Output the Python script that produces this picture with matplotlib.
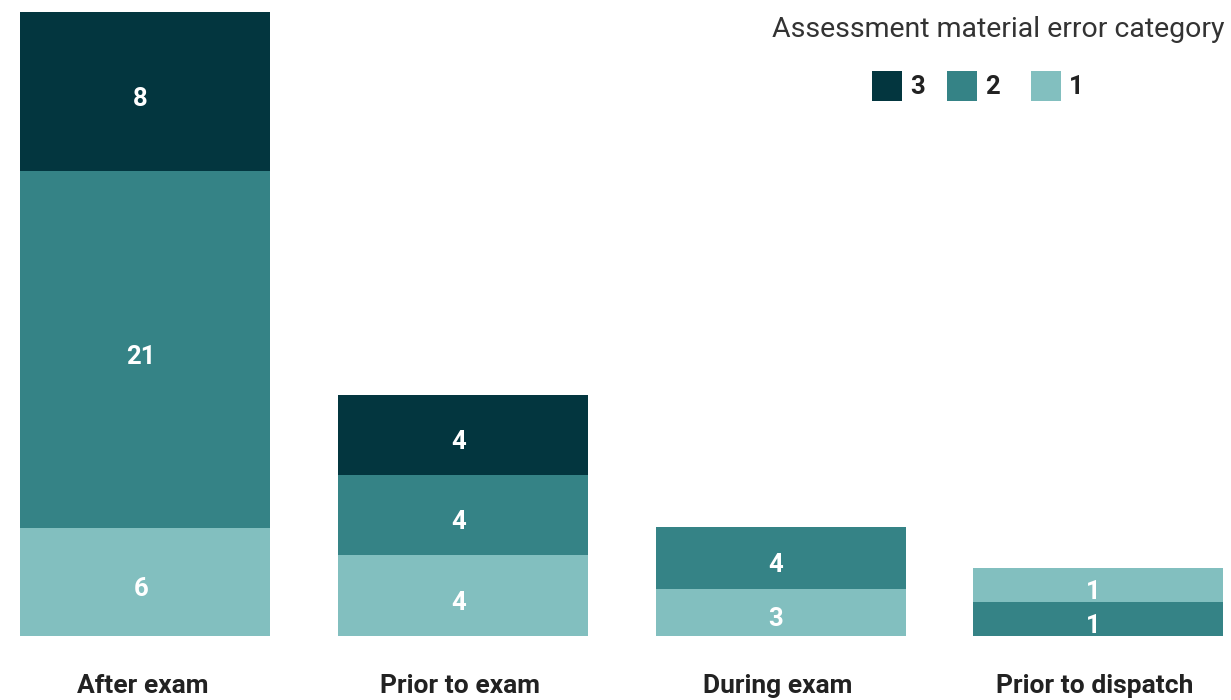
import matplotlib.pyplot as plt
from matplotlib.patches import Rectangle

plt.rcParams['font.family'] = ['Roboto', 'DejaVu Sans']

# stages on the x axis
stages = ["After exam", "Prior to exam", "During exam", "Prior to dispatch"]

# segments of each bar, bottom to top: error category, count shown, drawn height
seg_cats = [[1, 2, 3], [1, 2, 3], [1, 2], [2, 1]]
seg_counts = [[6, 21, 8], [4, 4, 4], [3, 4], [1, 1]]
seg_heights = [[108, 357, 159], [81, 80, 80], [47, 62], [34, 34]]

legend_cats = [3, 2, 1]
colors = {3: "#03363f", 2: "#358386", 1: "#82bfbf"}

fig = plt.figure(figsize=(12.31, 7), dpi=100)
ax = fig.add_axes([0, 0, 1, 1])
ax.set_xlim(-0.458, 3.418)
ax.set_ylim(-64, 636)
ax.axis("off")

width = 0.787
for i, stage in enumerate(stages):
    bottom = 0
    for cat, cnt, h in zip(seg_cats[i], seg_counts[i], seg_heights[i]):
        ax.bar(i, h, width=width, bottom=bottom, color=colors[cat], linewidth=0)
        ax.text(i - 0.015, bottom + h / 2 - 7, str(cnt), ha="center", va="center",
                color="white", fontsize=18.5, fontweight="bold")
        bottom += h
    ax.text(i - 0.01, -57, stage, ha="center", va="baseline", color="#222222",
            fontsize=19, fontweight="bold")

# legend
fig.text(0.995, 0.958, "Assessment material error category", ha="right",
         va="center", fontsize=20.5, color="#333333")
lx = [0.7085, 0.769, 0.8375]
for x, cat in zip(lx, legend_cats):
    fig.patches.append(Rectangle((x, 0.856), 0.0246, 0.0428, transform=fig.transFigure,
                                 color=colors[cat], linewidth=0))
    fig.text(x + 0.031, 0.876, str(cat), ha="left", va="center", fontsize=18.5,
             fontweight="bold", color="#222222")

fig.savefig("out.png", dpi=100)
